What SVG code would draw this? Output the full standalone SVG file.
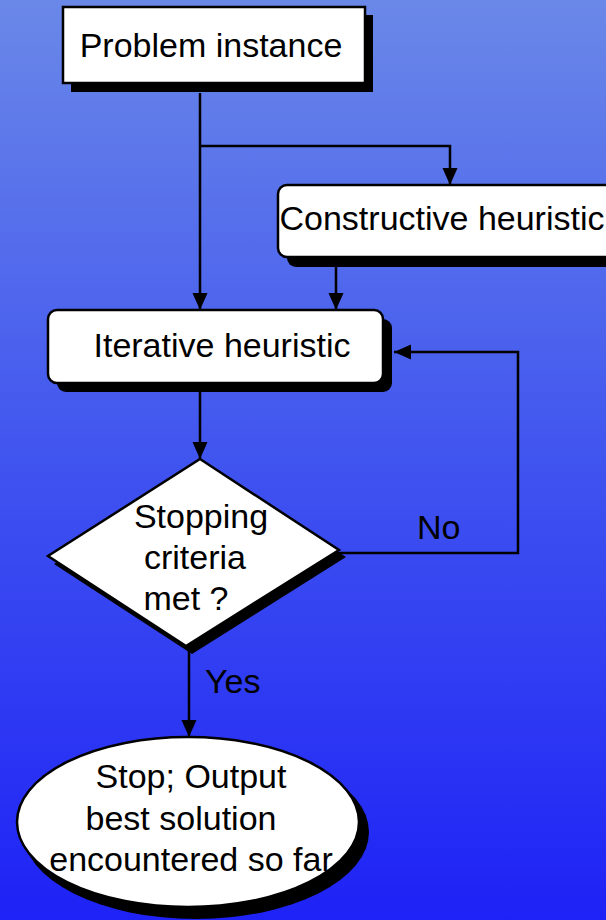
<svg xmlns="http://www.w3.org/2000/svg" width="606" height="920" viewBox="0 0 606 920">
<defs>
<linearGradient id="bg" x1="0" y1="0" x2="0" y2="1">
<stop offset="0" stop-color="#6a88e8"/>
<stop offset="0.5" stop-color="#4054ef"/>
<stop offset="1" stop-color="#1e22f6"/>
</linearGradient>
<marker id="arr" markerUnits="userSpaceOnUse" markerWidth="18" markerHeight="16" refX="17" refY="8" orient="auto">
<path d="M0,0.5 L17,8 L0,15.5 z" fill="#000"/>
</marker>
<style>
.box{fill:#fff;stroke:#000;stroke-width:2.5}
.sh{fill:#000}
.t{font-family:"Liberation Sans",Arial,sans-serif;font-size:34px;fill:#000}
.c{fill:none;stroke:#000;stroke-width:2.5}
</style>
</defs>
<rect width="606" height="920" fill="url(#bg)"/>
<g id="connectors">
<path class="c" d="M200,93 V310" marker-end="url(#arr)"/>
<path class="c" d="M200,146 H450 V185" marker-end="url(#arr)"/>
<path class="c" d="M336,266 V310" marker-end="url(#arr)"/>
<path class="c" d="M200,392 V459" marker-end="url(#arr)"/>
<path class="c" d="M338,553 H518 V352 H394" marker-end="url(#arr)"/>
<path class="c" d="M189,650 V737" marker-end="url(#arr)"/>
<text class="t" x="417" y="539">No</text>
<text class="t" x="205" y="693">Yes</text>
</g>
<g id="problem">
<rect class="sh" x="71" y="15" width="302" height="77"/>
<rect class="box" x="63" y="7" width="302" height="76"/>
<text class="t" x="211" y="57" text-anchor="middle">Problem instance</text>
</g>
<g id="constructive">
<rect class="sh" x="287" y="194" width="340" height="73" rx="9"/>
<rect class="box" x="278" y="185" width="340" height="72" rx="9"/>
<text class="t" x="442" y="230" text-anchor="middle">Constructive heuristic</text>
</g>
<g id="iterative">
<rect class="sh" x="57" y="319" width="335" height="73" rx="9"/>
<rect class="box" x="48" y="310" width="335" height="73" rx="9"/>
<text class="t" x="222" y="357" text-anchor="middle">Iterative heuristic</text>
</g>
<g id="decision">
<polygon class="sh" points="206,467 346,557 192,654 54,564"/>
<polygon class="box" points="200,459 339,550 186,646 48,556"/>
<text class="t" x="201" y="528" text-anchor="middle">Stopping</text>
<text class="t" x="195" y="569" text-anchor="middle">criteria</text>
<text class="t" x="186" y="610" text-anchor="middle">met ?</text>
</g>
<g id="stop">
<ellipse class="sh" cx="196" cy="832" rx="173" ry="87"/>
<ellipse class="box" cx="188" cy="822" rx="171" ry="85"/>
<text class="t" x="191" y="788" text-anchor="middle">Stop; Output</text>
<text class="t" x="181" y="830" text-anchor="middle">best solution</text>
<text class="t" x="191" y="871" text-anchor="middle">encountered so far</text>
</g>
</svg>
